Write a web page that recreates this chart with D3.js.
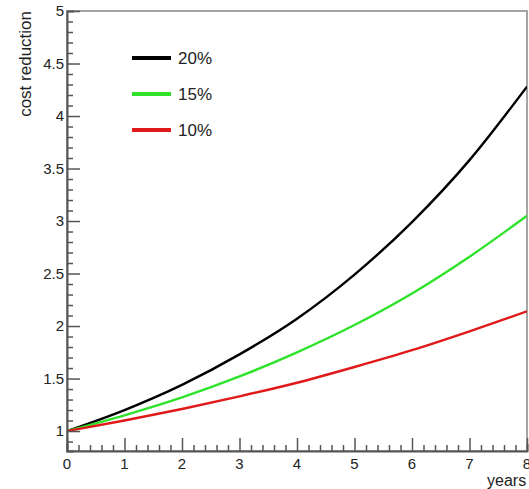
<!DOCTYPE html>
<html>
<head>
<meta charset="utf-8">
<script src="https://cdn.jsdelivr.net/npm/d3@7"></script>
<style>
  body { margin: 0; background: #fff; }
  text { font-family: "Liberation Sans", Arial, sans-serif; fill: #222; }
</style>
</head>
<body>
<script>
// values at whole years
const years = [0, 1, 2, 3, 4, 5, 6, 7, 8];
const rate20 = [1, 1.2, 1.44, 1.73, 2.07, 2.49, 2.99, 3.58, 4.28];
const rate15 = [1, 1.15, 1.32, 1.52, 1.75, 2.01, 2.31, 2.66, 3.05];
const rate10 = [1, 1.1, 1.21, 1.33, 1.46, 1.61, 1.77, 1.95, 2.14];
const seriesNames = ["20%", "15%", "10%"];
const seriesColors = ["#000000", "#2ee32a", "#e01a1a"];
const xTicks = [0, 1, 2, 3, 4, 5, 6, 7, 8];
const yTicks = [1, 1.5, 2, 2.5, 3, 3.5, 4, 4.5, 5];

const W = 529, H = 489;
const margin = {top: 11, right: 2, bottom: 38, left: 67};
const width = W - margin.left - margin.right;
const height = H - margin.top - margin.bottom;

const svg = d3.select("body").append("svg")
    .attr("width", W)
    .attr("height", H);

const g = svg.append("g")
    .attr("transform", "translate(" + margin.left + "," + margin.top + ")");

const x = d3.scaleLinear().domain([0, 8]).range([0, width]);
const y = d3.scaleLinear().domain([0.81, 5]).range([height, 0]);

const axisColor = "#555";

// frame
g.append("rect")
    .attr("width", width)
    .attr("height", height)
    .attr("fill", "none")
    .attr("stroke", "#888")
    .attr("stroke-width", 1.5);

// curves
const series = [rate20, rate15, rate10];
const line = d3.line()
    .x((d, i) => x(years[i]))
    .y(d => y(d))
    .curve(d3.curveMonotoneX);

g.append("defs").append("clipPath").attr("id", "clip")
    .append("rect").attr("width", width).attr("height", height);

series.forEach(function (s, k) {
    g.append("path")
        .datum(s)
        .attr("clip-path", "url(#clip)")
        .attr("fill", "none")
        .attr("stroke", seriesColors[k])
        .attr("stroke-width", 2.4)
        .attr("d", line);
});

// x axis (ticks pointing inward)
const xAxis = g.append("g")
    .attr("transform", "translate(0," + height + ")")
    .call(d3.axisTop(x).tickValues(d3.range(0, 8.001, 0.2)).tickSize(7).tickFormat(""));
xAxis.selectAll(".tick line")
    .attr("stroke", axisColor)
    .attr("stroke-width", 1.5)
    .attr("y2", d => Math.abs(d - Math.round(d)) < 1e-6 ? -13 : -6);
xAxis.select(".domain").attr("stroke", axisColor).attr("stroke-width", 2);

g.selectAll(".xlab")
    .data(xTicks)
    .enter().append("text")
    .attr("class", "xlab")
    .attr("x", d => x(d))
    .attr("y", height + 18)
    .attr("text-anchor", "middle")
    .style("font-size", "15px")
    .text(d => d);

// y axis
const yAxis = g.append("g")
    .call(d3.axisRight(y).tickValues(d3.range(9, 51).map(v => v / 10)).tickSize(7).tickFormat(""));
yAxis.selectAll(".tick line")
    .attr("stroke", axisColor)
    .attr("stroke-width", 1.5)
    .attr("x2", d => Math.abs(d * 2 - Math.round(d * 2)) < 1e-6 ? 13 : 6);
yAxis.select(".domain").attr("stroke", axisColor).attr("stroke-width", 2);

g.selectAll(".ylab")
    .data(yTicks)
    .enter().append("text")
    .attr("class", "ylab")
    .attr("x", -3)
    .attr("y", d => y(d))
    .attr("dy", "0.36em")
    .attr("text-anchor", "end")
    .style("font-size", "15px")
    .text(d => d);

// axis titles
svg.append("text")
    .attr("transform", "translate(31," + margin.top + ") rotate(-90)")
    .attr("text-anchor", "end")
    .style("font-size", "17px")
    .text("cost reduction");

svg.append("text")
    .attr("x", 487)
    .attr("y", H - 3)
    .attr("text-anchor", "start")
    .style("font-size", "16px")
    .text("years");

// legend
const legend = svg.append("g").attr("transform", "translate(132,58)");
seriesNames.forEach(function (name, k) {
    legend.append("line")
        .attr("x1", 0).attr("x2", 39)
        .attr("y1", k * 36).attr("y2", k * 36)
        .attr("stroke", seriesColors[k])
        .attr("stroke-width", 4);
    legend.append("text")
        .attr("x", 46)
        .attr("y", k * 36)
        .attr("dy", "0.36em")
        .style("font-size", "17px")
        .text(name);
});
</script>
</body>
</html>
